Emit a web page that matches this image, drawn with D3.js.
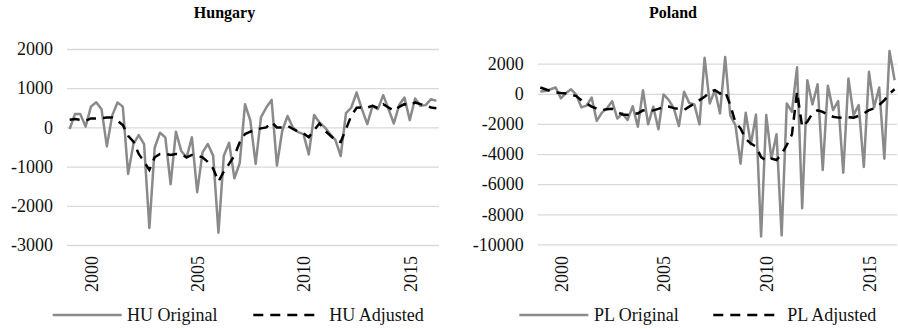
<!DOCTYPE html>
<html>
<head>
<meta charset="utf-8">
<script src="https://cdn.jsdelivr.net/npm/d3@7"></script>
<style>
  body { margin: 0; background: #fff; }
  svg { display: block; }
  svg text { font-family: "Liberation Serif", "Times New Roman", serif; }
  .grid line { stroke: #d9d9d9; stroke-width: 1.3; }
  .grid text, .xlab text { fill: #111; font-size: 18px; }
  .title { font-size: 16px; font-weight: bold; fill: #000; }
  .legend text { font-size: 18px; fill: #111; }
</style>
</head>
<body>
<div id="chart"></div>
<script>
// quarterly, 1999Q1 .. 2016Q2
const quarters = d3.range(70).map(i => `${1999 + Math.floor(i / 4)}Q${i % 4 + 1}`);
const yearTicks = ["2000Q1", "2005Q1", "2010Q1", "2015Q1"];

const huOriginal = [
  -40, 340, 340, 20, 530, 640, 460, -485, 300, 636,
  530, -1186, -424, -195, -424, -2565, -520, -135, -254, -1450,
  -110, -600, -770, -250, -1653, -636, -424, -720, -2686, -730,
  -390, -1297, -910, 593, 170, -932, 254, 508, 703, -975,
  -85, 290, 0, -120, -170, -690, 318, 127, 0, -170,
  -320, -730, 364, 508, 890, 466, 85, 550, 466, 822,
  466, 100, 570, 763, 186, 737, 550, 568, 720, 678
];
const huAdjusted = [
  195, 212, 195, 170, 229, 229, 237, 254, 254, 170,
  60, -212, -364, -678, -873, -1085, -763, -678, -678, -703,
  -678, -686, -763, -703, -720, -763, -880, -1050, -1380, -1130,
  -930, -720, -380, -170, -110, -60, -25, 0, 130, 0,
  0, 40, -40, -110, -150, -250, -70, 100, -80, -200,
  -330, -370, -40, 300, 500, 508, 508, 550, 491, 593,
  508, 424, 525, 593, 568, 636, 593, 568, 508, 490
];

const plOriginal = [
  150, 180, 300, 420, -300, 50, 300, -50, -900, -780,
  -250, -1800, -1250, -950, -490, -1640, -1300, -1745, -820, -2190,
  240, -2030, -860, -2350, -40, -400, -950, -2140, 130, -600,
  -700, -2030, 2390, -640, 240, -1300, 2450, -1440, -2080, -4640,
  -1260, -3350, -1380, -9480, -1414, -4300, -2680, -9400, -640, -1190,
  1760, -7600, 906, -707, 630, -5060, 540, -1080, -486, -5240,
  1017, -1414, -750, -4860, 1460, -900, 420, -4310, 2840, 900
];
const plAdjusted = [
  420, 300, 180, 100, 50, 20, -50, -150, -420, -650,
  -850, -980, -1080, -1030, -1000, -1200, -1370, -1400, -1300, -1300,
  -1100, -1150, -1100, -1000, -870, -850, -950, -1000, -1080, -850,
  -650, -420, -200, 100, 250, 20, 150, -750, -1900, -2300,
  -3000, -3300, -3500, -4200, -4450, -4300, -4400, -4000, -3400, -2700,
  130, -2200, -1850, -1300, -1100, -1200, -1400, -1520, -1580, -1590,
  -1550, -1580, -1460, -1300, -1080, -970, -750, -420, 20, 300
];

const huYTicks = [-3000, -2000, -1000, 0, 1000, 2000];
const plYTicks = [-10000, -8000, -6000, -4000, -2000, 0, 2000];

const panels = [
  {
    title: "Hungary", code: "HU", original: huOriginal, adjusted: huAdjusted,
    yTicks: huYTicks, cx: 224.5,
    left: 67, right: 439, top: 49, bottom: 245,
    legendLine: [52.7, 253.3], legendText: [127, 329.3]
  },
  {
    title: "Poland", code: "PL", original: plOriginal, adjusted: plAdjusted,
    yTicks: plYTicks, cx: 673,
    left: 537.7, right: 897.2, top: 63.7, bottom: 244.4,
    legendLine: [519.3, 713.3], legendText: [594, 787.3]
  }
];

const width = 898, height = 329;
const svg = d3.select("#chart").append("svg")
  .attr("width", width)
  .attr("height", height);

function drawPanel(cfg) {
  const g = svg.append("g");

  const x = d3.scalePoint()
    .domain(quarters)
    .range([cfg.left, cfg.right])
    .padding(0.5);
  const y = d3.scaleLinear()
    .domain(d3.extent(cfg.yTicks))
    .range([cfg.bottom, cfg.top]);

  g.append("text")
    .attr("class", "title")
    .attr("x", cfg.cx)
    .attr("y", 18)
    .attr("text-anchor", "middle")
    .text(cfg.title);

  // gridlines + value labels
  g.append("g")
    .attr("class", "grid")
    .attr("transform", `translate(${cfg.left},0)`)
    .call(d3.axisLeft(y)
      .tickValues(cfg.yTicks)
      .tickSize(-(cfg.right - cfg.left))
      .tickPadding(14)
      .tickFormat(d => String(d)))
    .call(a => a.attr("font-family", null).attr("font-size", null))
    .call(a => a.select(".domain").remove());

  // rotated year labels
  g.append("g")
    .attr("class", "xlab")
    .attr("transform", "translate(0,256)")
    .call(d3.axisBottom(x)
      .tickValues(yearTicks)
      .tickSize(0)
      .tickFormat(q => q.slice(0, 4)))
    .call(a => a.attr("font-family", null).attr("font-size", null))
    .call(a => a.select(".domain").remove())
    .selectAll("text")
      .attr("x", 0)
      .attr("y", 0)
      .attr("dy", "0.35em")
      .attr("transform", "rotate(-90)")
      .attr("text-anchor", "end");

  const line = d3.line()
    .x((d, i) => x(quarters[i]))
    .y(d => y(d));

  g.append("path")
    .datum(cfg.original)
    .attr("fill", "none")
    .attr("stroke", "#8a8a8a")
    .attr("stroke-width", 2.5)
    .attr("stroke-linejoin", "round")
    .attr("d", line);

  g.append("path")
    .datum(cfg.adjusted)
    .attr("fill", "none")
    .attr("stroke", "#000")
    .attr("stroke-width", 2.5)
    .attr("stroke-dasharray", "10,7")
    .attr("d", line);

  // legend
  const items = [
    { label: `${cfg.code} Original`, stroke: "#8a8a8a", dash: null, len: 69 },
    { label: `${cfg.code} Adjusted`, stroke: "#000", dash: "10,7", len: 61 }
  ];
  const lg = g.append("g").attr("class", "legend");
  items.forEach((it, k) => {
    const x0 = cfg.legendLine[k];
    lg.append("line")
      .attr("x1", x0).attr("x2", x0 + it.len)
      .attr("y1", 315).attr("y2", 315)
      .attr("stroke", it.stroke)
      .attr("stroke-width", 2.5)
      .attr("stroke-dasharray", it.dash);
    lg.append("text")
      .attr("x", cfg.legendText[k])
      .attr("y", 315)
      .attr("dy", "0.35em")
      .text(it.label);
  });
}

panels.forEach(drawPanel);
</script>
</body>
</html>
